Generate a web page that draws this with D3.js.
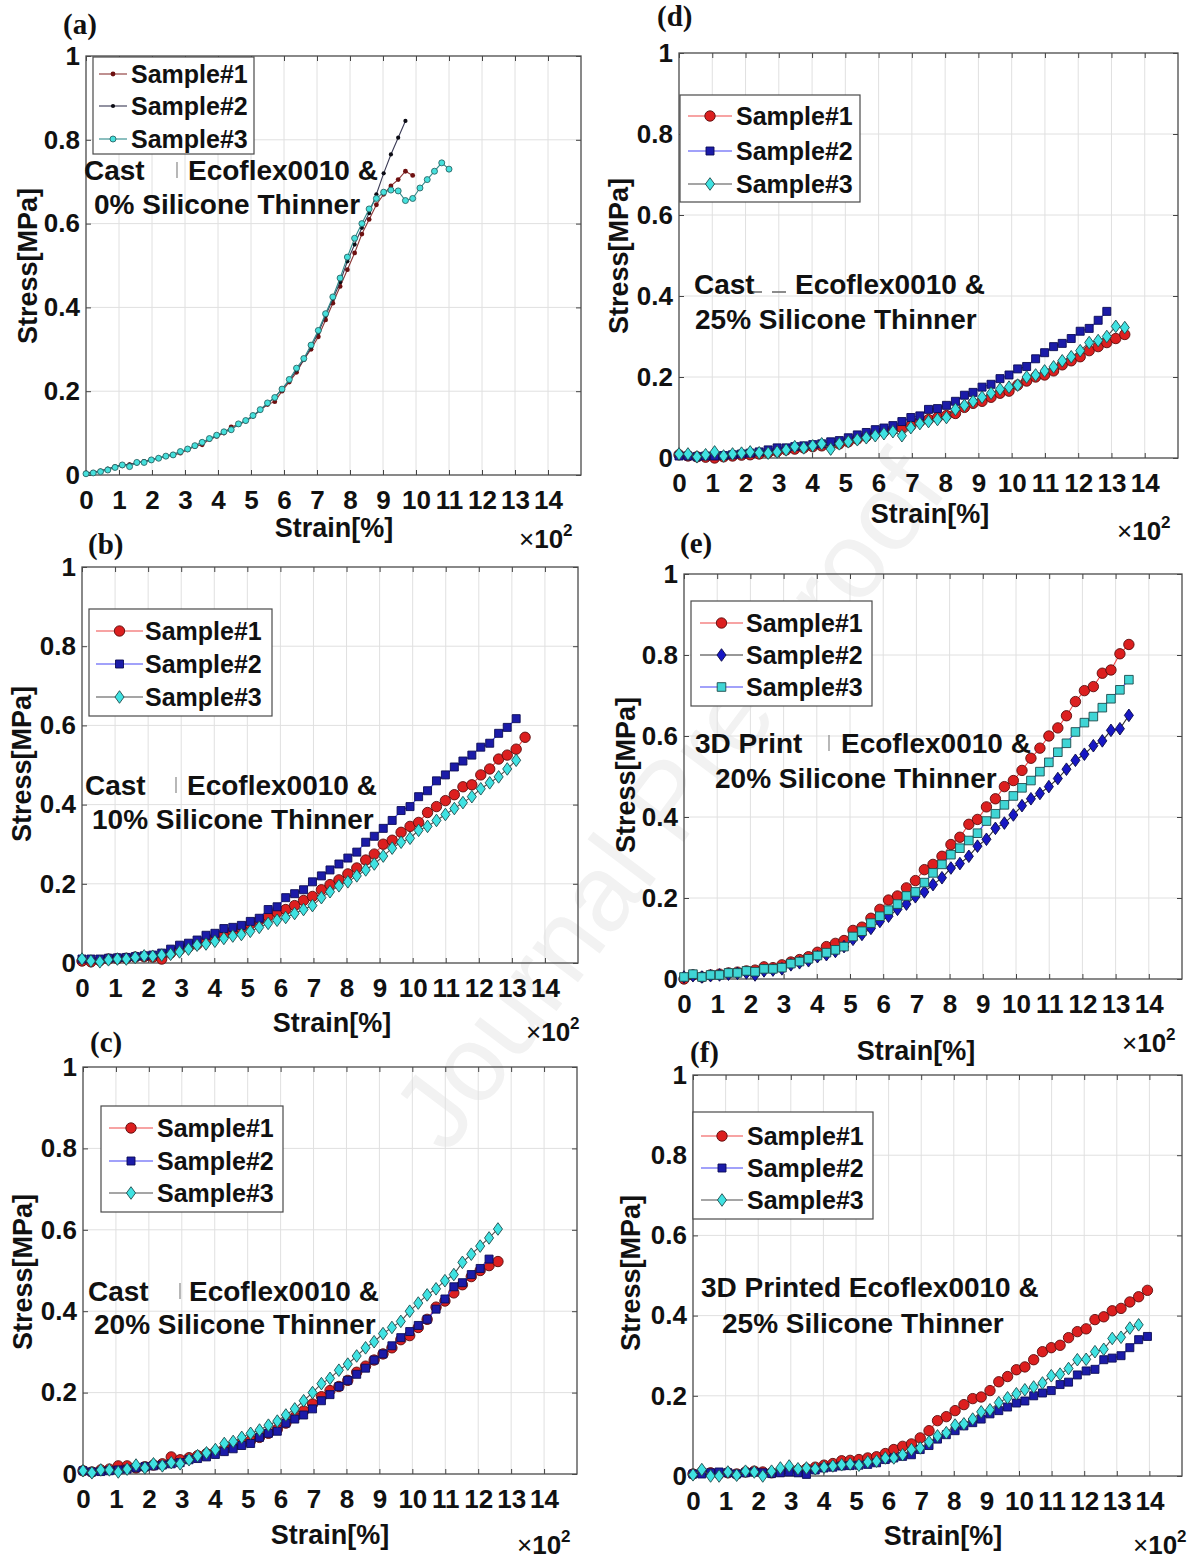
<!DOCTYPE html>
<html>
<head>
<meta charset="utf-8">
<script src="https://cdn.jsdelivr.net/npm/d3@7"></script>
<style>
  html, body { margin: 0; padding: 0; background: #fff; }
  svg { display: block; }
  text { font-family: "Liberation Sans", Arial, Helvetica, sans-serif; font-weight: bold; fill: #111; }
  .panel-label { font-family: "Liberation Serif", "Times New Roman", serif; }
  .watermark { font-family: "Liberation Sans", Arial, sans-serif; font-weight: normal; fill: #f2f2f2; }
</style>
</head>
<body>
<svg id="fig" width="1199" height="1562"></svg>
<script>
// ---- data (strain in x10^2 %, stress in MPa) ----
const strainA = [0, 0.22, 0.44, 0.66, 0.88, 1.1, 1.32, 1.54, 1.76, 1.98,
  2.2, 2.42, 2.64, 2.86, 3.08, 3.3, 3.52, 3.74, 3.96, 4.18,
  4.4, 4.62, 4.84, 5.06, 5.28, 5.5, 5.72, 5.94, 6.16, 6.38,
  6.6, 6.82, 7.04, 7.26, 7.48, 7.7, 7.92, 8.14, 8.36, 8.58,
  8.8, 9.02, 9.24, 9.46, 9.68, 9.9, 10.12, 10.34, 10.56, 10.78, 11.0];

const strainG = [0, 0.27, 0.54, 0.8, 1.07, 1.34, 1.61, 1.88, 2.14, 2.41,
  2.68, 2.95, 3.22, 3.48, 3.75, 4.02, 4.29, 4.56, 4.82, 5.09,
  5.36, 5.63, 5.9, 6.16, 6.43, 6.7, 6.97, 7.24, 7.5, 7.77,
  8.04, 8.31, 8.58, 8.84, 9.11, 9.38, 9.65, 9.92, 10.18, 10.45,
  10.72, 10.99, 11.26, 11.52, 11.79, 12.06, 12.33, 12.6, 12.86, 13.13,
  13.4, 13.67, 13.94];

// (a) cast, 0% thinner
const stressA1 = [0.005, 0.006, 0.01, 0.013, 0.02, 0.022, 0.025, 0.028, 0.032, 0.035,
  0.04, 0.044, 0.047, 0.052, 0.06, 0.068, 0.072, 0.085, 0.092, 0.1,
  0.115, 0.12, 0.128, 0.14, 0.155, 0.168, 0.175, 0.2, 0.222, 0.245,
  0.275, 0.3, 0.33, 0.37, 0.41, 0.45, 0.49, 0.53, 0.575, 0.61,
  0.645, 0.67, 0.69, 0.705, 0.725, 0.715];
const stressA2 = [0.005, 0.007, 0.01, 0.015, 0.02, 0.025, 0.025, 0.03, 0.033, 0.037,
  0.041, 0.045, 0.05, 0.055, 0.062, 0.07, 0.078, 0.085, 0.093, 0.102,
  0.11, 0.12, 0.13, 0.14, 0.155, 0.17, 0.185, 0.205, 0.225, 0.25,
  0.275, 0.305, 0.34, 0.38, 0.42, 0.46, 0.51, 0.55, 0.59, 0.625,
  0.67, 0.72, 0.765, 0.805, 0.845];
const stressA3 = [0.003, 0.005, 0.008, 0.012, 0.018, 0.024, 0.02, 0.03, 0.03, 0.036,
  0.04, 0.045, 0.048, 0.056, 0.062, 0.07, 0.078, 0.087, 0.095, 0.103,
  0.108, 0.122, 0.13, 0.142, 0.156, 0.172, 0.185, 0.205, 0.228, 0.255,
  0.278, 0.31, 0.345, 0.385, 0.425, 0.47, 0.52, 0.565, 0.6, 0.635,
  0.66, 0.675, 0.68, 0.678, 0.655, 0.66, 0.685, 0.705, 0.725, 0.745, 0.73];

// (b) cast, 10% thinner
const stressB1 = [0.005, 0.003, 0.006, 0.01, 0.011, 0.012, 0.015, 0.016, 0.015, 0.01,
  0.025, 0.033, 0.04, 0.047, 0.055, 0.063, 0.072, 0.08, 0.088, 0.098,
  0.108, 0.118, 0.128, 0.135, 0.145, 0.158, 0.168, 0.185, 0.198, 0.21,
  0.225, 0.24, 0.26, 0.275, 0.3, 0.31, 0.33, 0.345, 0.355, 0.38,
  0.395, 0.41, 0.425, 0.445, 0.45, 0.475, 0.49, 0.515, 0.525, 0.54, 0.57];
const stressB2 = [0.01, 0.01, 0.01, 0.012, 0.013, 0.014, 0.016, 0.018, 0.02, 0.025,
  0.035, 0.045, 0.05, 0.058, 0.07, 0.075, 0.087, 0.09, 0.095, 0.105,
  0.113, 0.135, 0.142, 0.165, 0.175, 0.185, 0.205, 0.22, 0.235, 0.25,
  0.265, 0.28, 0.305, 0.32, 0.34, 0.36, 0.385, 0.395, 0.42, 0.435,
  0.46, 0.475, 0.495, 0.51, 0.525, 0.545, 0.555, 0.58, 0.595, 0.617];
const stressB3 = [0.01, 0.005, 0.003, 0.008, 0.01, 0.01, 0.014, 0.018, 0.017, 0.02,
  0.022, 0.028, 0.035, 0.045, 0.048, 0.055, 0.062, 0.068, 0.072, 0.08,
  0.09, 0.1, 0.108, 0.115, 0.125, 0.135, 0.145, 0.165, 0.18, 0.195,
  0.205, 0.22, 0.235, 0.25, 0.27, 0.29, 0.305, 0.315, 0.335, 0.345,
  0.36, 0.375, 0.39, 0.405, 0.42, 0.44, 0.455, 0.47, 0.49, 0.512];

// (c) cast, 20% thinner
const stressC1 = [0.008, 0.005, 0.01, 0.012, 0.02, 0.02, 0.015, 0.018, 0.022, 0.025,
  0.042, 0.035, 0.04, 0.045, 0.05, 0.055, 0.06, 0.068, 0.075, 0.082,
  0.09, 0.1, 0.11, 0.125, 0.14, 0.155, 0.172, 0.19, 0.205, 0.215,
  0.23, 0.25, 0.265, 0.28, 0.295, 0.31, 0.33, 0.34, 0.36, 0.38,
  0.41, 0.425, 0.445, 0.465, 0.485, 0.5, 0.512, 0.522];
const stressC2 = [0.008, 0.005, 0.006, 0.008, 0.01, 0.012, 0.015, 0.018, 0.02, 0.022,
  0.025, 0.028, 0.035, 0.038, 0.042, 0.048, 0.055, 0.062, 0.07, 0.075,
  0.09, 0.1, 0.105, 0.125, 0.135, 0.145, 0.16, 0.18, 0.195, 0.215,
  0.23, 0.245, 0.26, 0.28, 0.295, 0.315, 0.335, 0.35, 0.365, 0.38,
  0.405, 0.43, 0.46, 0.47, 0.49, 0.505, 0.528];
const stressC3 = [0.008, 0.003, 0.01, 0.01, 0.005, 0.012, 0.022, 0.015, 0.025, 0.02,
  0.028, 0.025, 0.035, 0.045, 0.052, 0.06, 0.075, 0.08, 0.09, 0.1,
  0.108, 0.12, 0.13, 0.145, 0.16, 0.18, 0.2, 0.222, 0.235, 0.255,
  0.27, 0.29, 0.31, 0.325, 0.345, 0.36, 0.375, 0.4, 0.42, 0.44,
  0.455, 0.475, 0.49, 0.52, 0.54, 0.56, 0.58, 0.602];

// (d) cast, 25% thinner
const stressD1 = [0.008, 0.005, 0.003, 0.002, 0.0, 0.003, 0.005, 0.007, 0.008, 0.01,
  0.013, 0.016, 0.02, 0.022, 0.025, 0.028, 0.03, 0.032, 0.035, 0.04,
  0.047, 0.053, 0.06, 0.065, 0.07, 0.075, 0.08, 0.09, 0.095, 0.1,
  0.105, 0.11, 0.125, 0.135, 0.14, 0.15, 0.16, 0.165, 0.18, 0.19,
  0.2, 0.205, 0.215, 0.23, 0.24, 0.25, 0.265, 0.275, 0.285, 0.295, 0.305];
const stressD2 = [0.005, 0.005, 0.003, 0.005, 0.005, 0.006, 0.008, 0.01, 0.012, 0.015,
  0.02, 0.025, 0.025, 0.028, 0.03, 0.033, 0.035, 0.04, 0.043, 0.05,
  0.057, 0.063, 0.07, 0.074, 0.08, 0.09, 0.1, 0.104, 0.12, 0.122,
  0.13, 0.14, 0.155, 0.162, 0.175, 0.182, 0.196, 0.205, 0.22, 0.226,
  0.245, 0.26, 0.275, 0.283, 0.295, 0.313, 0.32, 0.34, 0.362];
const stressD3 = [0.01, 0.01, 0.003, 0.008, 0.015, 0.005, 0.01, 0.012, 0.015, 0.013,
  0.012, 0.015, 0.02, 0.028, 0.025, 0.03, 0.035, 0.022, 0.035, 0.04,
  0.045, 0.05, 0.055, 0.06, 0.065, 0.055, 0.075, 0.085, 0.09, 0.095,
  0.1, 0.12, 0.13, 0.14, 0.15, 0.16, 0.17, 0.175, 0.18, 0.2,
  0.205, 0.215, 0.225, 0.24, 0.25, 0.265, 0.285, 0.29, 0.3, 0.325, 0.322];

// (e) 3D printed, 20% thinner
const stressE1 = [0.0, 0.01, 0.005, 0.01, 0.012, 0.015, 0.017, 0.02, 0.022, 0.03,
  0.028, 0.035, 0.042, 0.048, 0.055, 0.066, 0.08, 0.088, 0.095, 0.12,
  0.128, 0.15, 0.172, 0.195, 0.205, 0.225, 0.243, 0.27, 0.283, 0.303,
  0.332, 0.35, 0.382, 0.394, 0.425, 0.445, 0.475, 0.49, 0.515, 0.545,
  0.57, 0.6, 0.62, 0.65, 0.685, 0.712, 0.722, 0.755, 0.763, 0.803, 0.826];
const stressE2 = [0.005, 0.008, 0.005, 0.008, 0.01, 0.012, 0.014, 0.015, 0.01, 0.02,
  0.022, 0.025, 0.035, 0.04, 0.045, 0.055, 0.06, 0.068, 0.08, 0.098,
  0.11, 0.125, 0.142, 0.155, 0.172, 0.185, 0.203, 0.215, 0.233, 0.25,
  0.274, 0.285, 0.303, 0.328, 0.345, 0.372, 0.385, 0.405, 0.428, 0.445,
  0.458, 0.475, 0.495, 0.518, 0.54, 0.555, 0.576, 0.588, 0.614, 0.618, 0.651];
const stressE3 = [0.005, 0.012, 0.005, 0.01, 0.01, 0.015, 0.015, 0.02, 0.018, 0.025,
  0.025, 0.028, 0.038, 0.043, 0.05, 0.058, 0.065, 0.072, 0.08, 0.105,
  0.118, 0.138, 0.155, 0.17, 0.185, 0.205, 0.215, 0.238, 0.262, 0.283,
  0.307, 0.323, 0.342, 0.36, 0.39, 0.408, 0.43, 0.452, 0.472, 0.49,
  0.512, 0.535, 0.56, 0.582, 0.61, 0.633, 0.648, 0.67, 0.692, 0.714, 0.739];

// (f) 3D printed, 25% thinner
const stressF1 = [0.005, 0.01, 0.008, 0.005, 0.008, 0.005, 0.01, 0.012, 0.01, 0.008,
  0.012, 0.015, 0.015, 0.018, 0.022, 0.027, 0.031, 0.038, 0.039, 0.041,
  0.045, 0.048, 0.056, 0.066, 0.074, 0.08, 0.095, 0.113, 0.138, 0.148,
  0.163, 0.178, 0.193, 0.197, 0.213, 0.235, 0.248, 0.265, 0.272, 0.29,
  0.31, 0.32, 0.326, 0.345, 0.36, 0.367, 0.39, 0.397, 0.412, 0.418,
  0.434, 0.447, 0.463];
const stressF2 = [0.005, 0.005, 0.008, 0.01, 0.008, 0.005, 0.008, 0.01, 0.008, 0.006,
  0.008, 0.01, 0.008, 0.004, 0.015, 0.02, 0.022, 0.025, 0.026, 0.027,
  0.029, 0.033, 0.041, 0.045, 0.049, 0.053, 0.066, 0.076, 0.092, 0.103,
  0.113, 0.125, 0.133, 0.142, 0.155, 0.163, 0.172, 0.182, 0.187, 0.2,
  0.207, 0.213, 0.228, 0.234, 0.252, 0.262, 0.266, 0.29, 0.294, 0.3,
  0.32, 0.34, 0.348];
const stressF3 = [0.003, 0.016, 0.0, 0.0, 0.01, 0.002, 0.012, 0.01, 0.0, 0.012,
  0.02, 0.025, 0.018, 0.02, 0.018, 0.022, 0.025, 0.028, 0.03, 0.027,
  0.035, 0.037, 0.045, 0.045, 0.053, 0.066, 0.07, 0.085, 0.1, 0.108,
  0.127, 0.13, 0.142, 0.16, 0.165, 0.183, 0.195, 0.205, 0.215, 0.222,
  0.232, 0.25, 0.254, 0.268, 0.29, 0.291, 0.31, 0.316, 0.343, 0.346,
  0.369, 0.377];

const sampleNames = ['Sample#1', 'Sample#2', 'Sample#3'];
const xTickValues = [0, 1, 2, 3, 4, 5, 6, 7, 8, 9, 10, 11, 12, 13, 14];
const yTickValues = [0, 0.2, 0.4, 0.6, 0.8, 1];
const yTickLabels = ['0', '0.2', '0.4', '0.6', '0.8', '1'];

// ---- marker / line styles ----
const styles = {
  aRed:   { line: '#8a3535', shape: 'circle', size: 2.4, fill: '#6e1010', stroke: 'none' },
  aBlack: { line: '#3a3a55', shape: 'circle', size: 2.1, fill: '#0c0c14', stroke: 'none' },
  aCyan:  { line: '#2f8a8a', shape: 'circle', size: 3, fill: '#45e0dc', stroke: '#2a6565' },
  red:    { line: '#f04848', shape: 'circle', size: 5.2, fill: '#dc1f1f', stroke: '#5a0c0c' },
  blueSq: { line: '#4545f5', shape: 'square', size: 4, fill: '#1b1ba8', stroke: '#0c0c55' },
  cyanDi: { line: '#4d4d4d', shape: 'diamond', size: 6.3, fill: '#3fe2e2', stroke: '#1f4c4c' },
  blueDi: { line: '#333333', shape: 'diamond', size: 6.3, fill: '#1717c4', stroke: '#0a0a45' },
  cyanSq: { line: '#4545f5', shape: 'square', size: 4.3, fill: '#3fd5d5', stroke: '#1d4a4a' }
};

// ---- panel layout ----
const panels = [
  { label: '(a)', lx: 63, ly: 34, L: 86, R: 581, T: 56, B: 475,
    series: [[strainA, stressA1, 'aRed'], [strainA, stressA2, 'aBlack'], [strainA, stressA3, 'aCyan']],
    legend: { x: 93, y: 57, w: 161, h: 97, rows: [74, 106, 139], lx1: 99, lx2: 127, tx: 131 },
    ylx: 27, yly: 266, sx: 334, sy: 537, ex: 519, ey: 548,
    notes: [ { t: 'Cast', x: 84, y: 180 }, { t: 'Ecoflex0010 &', x: 188, y: 180 },
             { t: '0% Silicone Thinner', x: 94, y: 214 } ],
    bar: { x: 177, y1: 162, y2: 178 } },
  { label: '(d)', lx: 657, ly: 26, L: 679, R: 1178, T: 53, B: 458,
    series: [[strainG, stressD1, 'red'], [strainG, stressD2, 'blueSq'], [strainG, stressD3, 'cyanDi']],
    legend: { x: 680, y: 95, w: 180, h: 107, rows: [116, 151, 184], lx1: 688, lx2: 732, tx: 736 },
    ylx: 618, yly: 256, sx: 930, sy: 523, ex: 1117, ey: 540,
    notes: [ { t: 'Cast', x: 694, y: 294 }, { t: 'Ecoflex0010 &', x: 795, y: 294 },
             { t: '25% Silicone Thinner', x: 695, y: 329 } ],
    dashes: [[753, 762, 292], [772, 786, 292]] },
  { label: '(b)', lx: 88, ly: 554, L: 82, R: 578, T: 567, B: 963,
    series: [[strainG, stressB1, 'red'], [strainG, stressB2, 'blueSq'], [strainG, stressB3, 'cyanDi']],
    legend: { x: 89, y: 609, w: 183, h: 107, rows: [631, 664, 697], lx1: 96, lx2: 143, tx: 145 },
    ylx: 21, yly: 764, sx: 332, sy: 1032, ex: 526, ey: 1041,
    notes: [ { t: 'Cast', x: 85, y: 795 }, { t: 'Ecoflex0010 &', x: 187, y: 795 },
             { t: '10% Silicone Thinner', x: 92, y: 829 } ],
    bar: { x: 176, y1: 777, y2: 793 } },
  { label: '(e)', lx: 680, ly: 553, L: 684, R: 1182, T: 574, B: 979,
    series: [[strainG, stressE1, 'red'], [strainG, stressE2, 'blueDi'], [strainG, stressE3, 'cyanSq']],
    legend: { x: 691, y: 601, w: 181, h: 105, rows: [623, 655, 687], lx1: 700, lx2: 743, tx: 746 },
    ylx: 625, yly: 775, sx: 916, sy: 1060, ex: 1122, ey: 1052,
    notes: [ { t: '3D Print', x: 695, y: 753 }, { t: 'Ecoflex0010 &', x: 841, y: 753 },
             { t: '20% Silicone Thinner', x: 715, y: 788 } ],
    bar: { x: 829, y1: 735, y2: 751 } },
  { label: '(c)', lx: 90, ly: 1052, L: 83, R: 577, T: 1067, B: 1474,
    series: [[strainG, stressC1, 'red'], [strainG, stressC2, 'blueSq'], [strainG, stressC3, 'cyanDi']],
    legend: { x: 101, y: 1106, w: 182, h: 106, rows: [1128, 1161, 1193], lx1: 109, lx2: 153, tx: 157 },
    ylx: 22, yly: 1272, sx: 330, sy: 1544, ex: 517, ey: 1554,
    notes: [ { t: 'Cast', x: 88, y: 1301 }, { t: 'Ecoflex0010 &', x: 189, y: 1301 },
             { t: '20% Silicone Thinner', x: 94, y: 1334 } ],
    bar: { x: 180, y1: 1283, y2: 1299 } },
  { label: '(f)', lx: 690, ly: 1062, L: 693, R: 1182, T: 1075, B: 1476,
    series: [[strainG, stressF1, 'red'], [strainG, stressF2, 'blueSq'], [strainG, stressF3, 'cyanDi']],
    legend: { x: 693, y: 1112, w: 180, h: 107, rows: [1136, 1168, 1200], lx1: 701, lx2: 743, tx: 747 },
    ylx: 630, yly: 1273, sx: 943, sy: 1545, ex: 1133, ey: 1554,
    notes: [ { t: '3D Printed Ecoflex0010 &', x: 701, y: 1297 },
             { t: '25% Silicone Thinner', x: 722, y: 1333 } ] }
];

function markerPath(shape, s) {
  if (shape === 'square') return `M${-s},${-s}H${s}V${s}H${-s}Z`;
  if (shape === 'diamond') return `M0,${-s}L${s * 0.72},0L0,${s}L${-s * 0.72},0Z`;
  return `M${s},0A${s},${s} 0 1,1 ${-s},0A${s},${s} 0 1,1 ${s},0Z`;
}

const svg = d3.select('#fig');
svg.append('rect').attr('width', 1199).attr('height', 1562).attr('fill', '#fff');

// faint diagonal watermark behind the plots
svg.append('text').attr('class', 'watermark')
  .attr('transform', 'translate(668,800) rotate(-53)')
  .attr('text-anchor', 'middle').attr('dy', '0.35em')
  .attr('font-size', 108).text('Journal Pre-proof');

function styleAxis(sel, size) {
  sel.select('.domain').remove();
  sel.selectAll('.tick line').attr('stroke', '#444').attr('stroke-width', 1);
  sel.selectAll('.tick text')
    .attr('font-family', '"Liberation Sans", Arial, sans-serif')
    .attr('font-weight', 'bold').attr('font-size', size).attr('fill', '#111');
}

panels.forEach(p => {
  const x = d3.scaleLinear().domain([0, 15]).range([p.L, p.R]);
  const y = d3.scaleLinear().domain([0, 1]).range([p.B, p.T]);
  const g = svg.append('g');

  // grid
  g.append('g').selectAll('line').data(xTickValues.filter(d => d > 0)).join('line')
    .attr('x1', d => x(d)).attr('x2', d => x(d)).attr('y1', p.T).attr('y2', p.B)
    .attr('stroke', '#e0e0e0').attr('stroke-width', 1);
  g.append('g').selectAll('line').data(yTickValues.filter(d => d > 0 && d < 1)).join('line')
    .attr('y1', d => y(d)).attr('y2', d => y(d)).attr('x1', p.L).attr('x2', p.R)
    .attr('stroke', '#e0e0e0').attr('stroke-width', 1);

  // axes with inward ticks
  g.append('g').attr('transform', `translate(0,${p.B})`)
    .call(d3.axisBottom(x).tickValues(xTickValues).tickSizeInner(-5).tickSizeOuter(0)
      .tickPadding(15.5).tickFormat(d => d))
    .call(s => styleAxis(s, 26));
  g.append('g').attr('transform', `translate(0,${p.T})`)
    .call(d3.axisTop(x).tickValues(xTickValues).tickSizeInner(-5).tickSizeOuter(0).tickFormat(''))
    .call(s => styleAxis(s, 26));
  g.append('g').attr('transform', `translate(${p.L},0)`)
    .call(d3.axisLeft(y).tickValues(yTickValues).tickSizeInner(-5).tickSizeOuter(0)
      .tickPadding(6).tickFormat((d, i) => yTickLabels[i]))
    .call(s => styleAxis(s, 26));
  g.append('g').attr('transform', `translate(${p.R},0)`)
    .call(d3.axisRight(y).tickValues(yTickValues).tickSizeInner(-5).tickSizeOuter(0).tickFormat(''))
    .call(s => styleAxis(s, 26));

  g.append('rect').attr('x', p.L).attr('y', p.T).attr('width', p.R - p.L).attr('height', p.B - p.T)
    .attr('fill', 'none').attr('stroke', '#4a4a4a').attr('stroke-width', 1.3);

  // series
  const line = d3.line().x(d => x(d[0])).y(d => y(d[1]));
  p.series.forEach(([xs, ys, key]) => {
    const st = styles[key];
    const pts = ys.map((v, i) => [xs[i], v]);
    const sg = g.append('g');
    sg.append('path').datum(pts).attr('d', line)
      .attr('fill', 'none').attr('stroke', st.line).attr('stroke-width', 1.1);
    sg.selectAll('path.m').data(pts).join('path').attr('class', 'm')
      .attr('d', markerPath(st.shape, st.size))
      .attr('transform', d => `translate(${x(d[0])},${y(d[1])})`)
      .attr('fill', st.fill).attr('stroke', st.stroke).attr('stroke-width', 0.9);
  });

  // annotation text
  p.notes.forEach(n => {
    g.append('text').attr('x', n.x).attr('y', n.y).attr('font-size', 28).text(n.t);
  });
  if (p.bar) {
    g.append('line').attr('x1', p.bar.x).attr('x2', p.bar.x).attr('y1', p.bar.y1).attr('y2', p.bar.y2)
      .attr('stroke', '#888').attr('stroke-width', 1.2);
  }
  if (p.dashes) {
    p.dashes.forEach(([a, b, yy]) => {
      g.append('line').attr('x1', a).attr('x2', b).attr('y1', yy).attr('y2', yy)
        .attr('stroke', '#666').attr('stroke-width', 1.5);
    });
  }

  // legend
  const lg = p.legend;
  const leg = g.append('g');
  leg.append('rect').attr('x', lg.x).attr('y', lg.y).attr('width', lg.w).attr('height', lg.h)
    .attr('fill', '#fff').attr('stroke', '#4a4a4a').attr('stroke-width', 1.2);
  p.series.forEach(([, , key], i) => {
    const st = styles[key];
    const ry = lg.rows[i];
    leg.append('line').attr('x1', lg.lx1).attr('x2', lg.lx2).attr('y1', ry).attr('y2', ry)
      .attr('stroke', st.line).attr('stroke-width', 1.1);
    leg.append('path').attr('d', markerPath(st.shape, st.size))
      .attr('transform', `translate(${(lg.lx1 + lg.lx2) / 2},${ry})`)
      .attr('fill', st.fill).attr('stroke', st.stroke).attr('stroke-width', 0.9);
    leg.append('text').attr('x', lg.tx).attr('y', ry + 9).attr('font-size', 25).text(sampleNames[i]);
  });

  // axis titles
  g.append('text').attr('x', p.sx).attr('y', p.sy).attr('text-anchor', 'middle')
    .attr('font-size', 27).text('Strain[%]');
  g.append('text').attr('transform', `translate(${p.ylx},${p.yly}) rotate(-90)`)
    .attr('text-anchor', 'middle').attr('dy', '0.36em').attr('font-size', 27).text('Stress[MPa]');

  // x10^2 multiplier
  const ex = g.append('text').attr('x', p.ex).attr('y', p.ey).attr('font-size', 26);
  ex.append('tspan').attr('font-weight', 'normal').text('\u00d7');
  ex.append('tspan').text('10');
  ex.append('tspan').attr('font-size', 17).attr('dy', -12).text('2');

  // panel label
  g.append('text').attr('class', 'panel-label').attr('x', p.lx).attr('y', p.ly)
    .attr('font-size', 29).text(p.label);
});
</script>
</body>
</html>
